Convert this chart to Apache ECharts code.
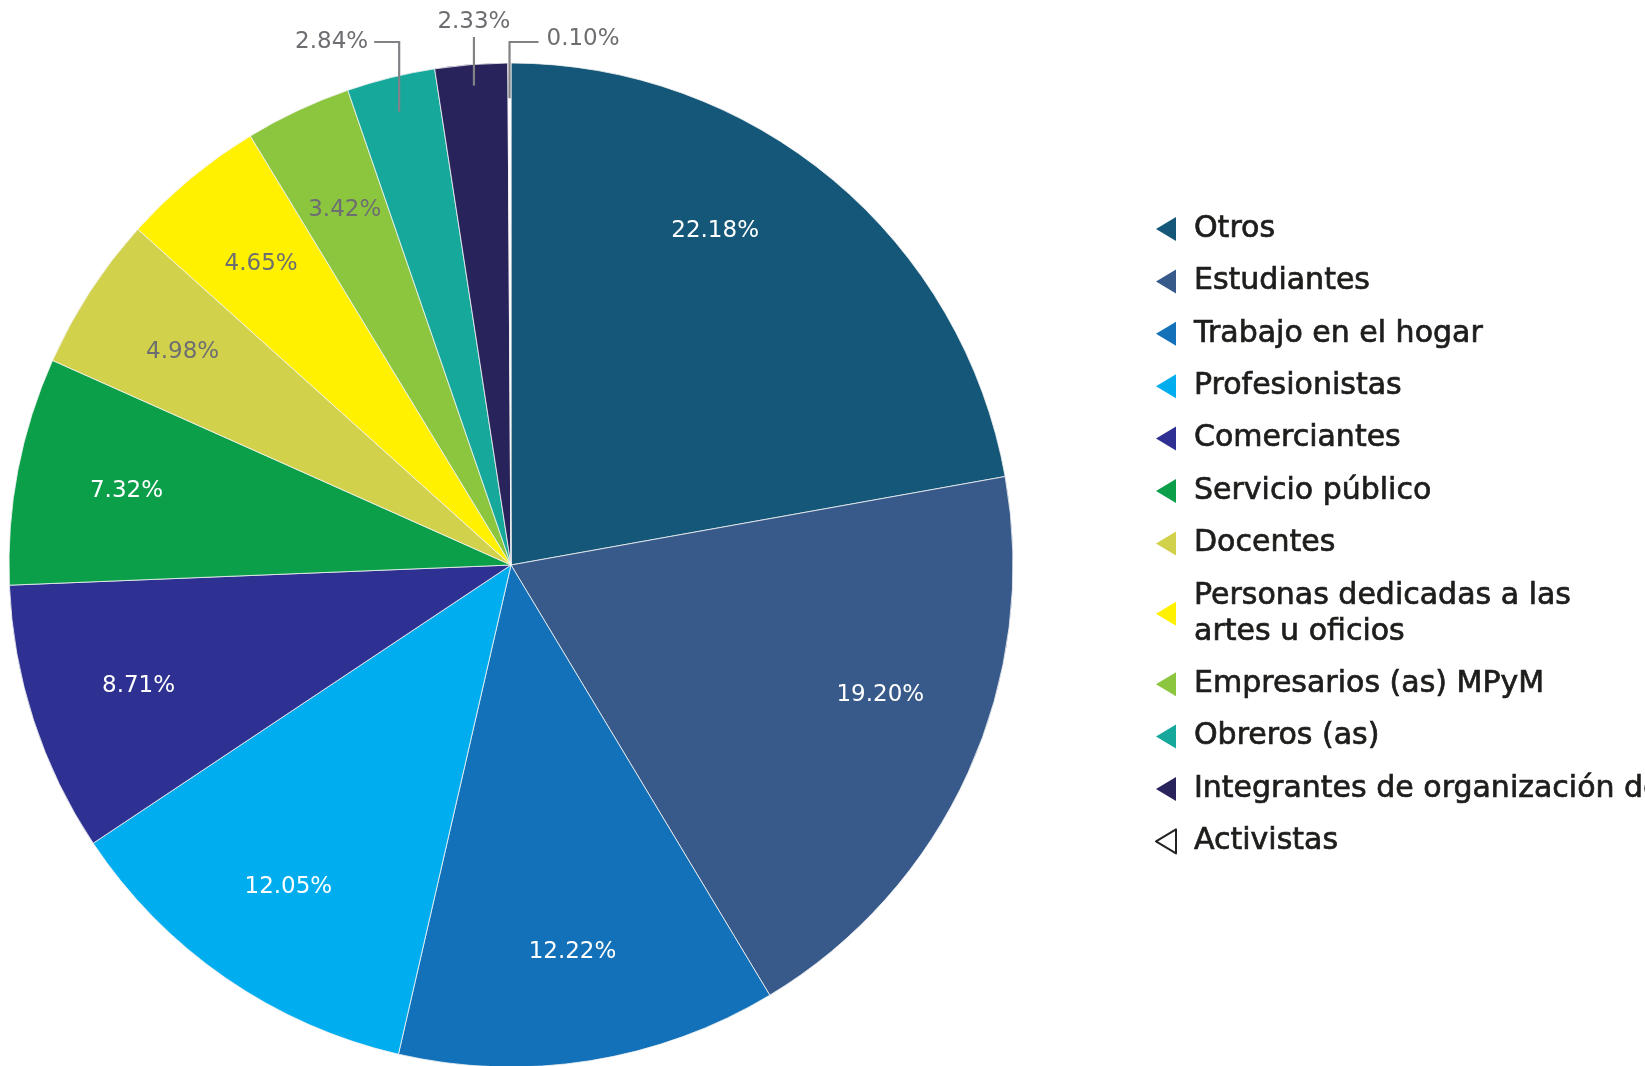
<!DOCTYPE html>
<html><head><meta charset="utf-8">
<script src="https://cdn.jsdelivr.net/npm/echarts@6/dist/echarts.min.js"></script>
<style>html,body{margin:0;padding:0;background:#fff}#c{width:1645px;height:1066px}</style>
</head><body><div id="c"></div>
<script>
const categories = ['Otros','Estudiantes','Trabajo en el hogar','Profesionistas','Comerciantes','Servicio público','Docentes','Personas dedicadas a las\nartes u oficios','Empresarios (as) MPyM','Obreros (as)','Integrantes de organización de la sociedad civil','Activistas'];
const values = [22.18,19.20,12.22,12.05,8.71,7.32,4.98,4.65,3.42,2.84,2.33,0.10];
const colors = ['#155778','#385a8a','#1271b9','#00aeef','#2e3192','#0c9f4a','#d2d14b','#fff100','#8cc63f','#16a89b','#29235c','#ffffff'];
const labelColors = ['#ffffff','#ffffff','#ffffff','#ffffff','#ffffff','#ffffff','#6d6e71','#6d6e71','#6d6e71','#6d6e71','#6d6e71','#6d6e71'];
const outsideIdx = [9,10,11];
const outsideDir = {9:'left',10:'up',11:'right'};
// small angular nudges (degrees) of the inside labels, as placed in the original
const labelNudge = {0:-8.5, 1:-5};

const CX = 511, CY = 565, R = 502;
const total = values.reduce((a,b)=>a+b,0);
const midAngles = [];
let acc = 0;
values.forEach(v => { midAngles.push((acc + v/2)/total*2*Math.PI); acc += v; });
function pt(i, r, nudgeDeg){ const a = midAngles[i] + (nudgeDeg||0)*Math.PI/180; return [CX + r*Math.sin(a), CY - r*Math.cos(a)]; }

const LINE_TOP = 42;
const baseData = categories.map((name,i) => ({name, value: values[i], itemStyle: {color: colors[i]}}));
const labelData = categories.map((name,i) => {
  const out = outsideIdx.indexOf(i) >= 0;
  return {
    name, value: values[i],
    label: {position: out ? 'outside' : 'inside', color: labelColors[i]},
    labelLine: {show: out, lineStyle: {color: '#808285', width: 2.2}}
  };
});

const chart = echarts.init(document.getElementById('c'), null, {renderer:'canvas'});
chart.setOption({
  animation: false,
  backgroundColor: '#fff',
  legend: {
    orient: 'vertical', left: 1150, top: 206,
    itemWidth: 22, itemHeight: 24, itemGap: 16.4,
    icon: 'path://M20,0 L20,24 L0,12 Z',
    itemStyle: {borderWidth: 0},
    textStyle: {fontFamily: 'DejaVu Sans', fontSize: 30, lineHeight: 36, color: '#1d1d1b',
      textBorderColor: '#1d1d1b', textBorderWidth: 0.7, padding: [0,0,0,12]},
    data: categories.map((n,i) => i === 11
      ? {name: n, itemStyle: {color:'#fff', borderColor:'#222', borderWidth: 2}}
      : {name: n, itemStyle: {color: colors[i]}})
  },
  series: [{
    type: 'pie', z: 2,
    center: [CX, CY], radius: [0, R],
    startAngle: 90, clockwise: true,
    itemStyle: {borderColor: '#f4f4f4', borderWidth: 0.8},
    label: {show: false}, labelLine: {show: false},
    data: baseData
  }, {
    type: 'pie', z: 5,
    center: [CX, CY], radius: [0, R],
    startAngle: 90, clockwise: true,
    silent: true, legendHoverLink: false,
    avoidLabelOverlap: false,
    itemStyle: {color: 'rgba(0,0,0,0)', borderWidth: 0},
    label: {
      show: true, fontFamily: 'DejaVu Sans', fontSize: 23,
      formatter: p => p.value.toFixed(2) + '%'
    },
    labelLine: {show: false, length: 10, length2: 10},
    labelLayout: function (params) {
      const i = params.dataIndex;
      if (outsideIdx.indexOf(i) < 0) {
        const p = pt(i, 0.78*R, labelNudge[i]);
        return {x: p[0], y: p[1], align: 'center', verticalAlign: 'middle'};
      }
      const a = pt(i, 0.93*R);
      const dir = outsideDir[i];
      if (dir === 'left') {
        return {x: a[0]-31, y: LINE_TOP, align: 'right', verticalAlign: 'middle',
          labelLinePoints: [[a[0], a[1]], [a[0], LINE_TOP], [a[0]-25, LINE_TOP]]};
      } else if (dir === 'up') {
        return {x: a[0], y: 22, align: 'center', verticalAlign: 'middle',
          labelLinePoints: [[a[0], a[1]-14], [a[0], LINE_TOP-5], [a[0], LINE_TOP-5]]};
      } else {
        return {x: a[0]+37, y: 39, align: 'left', verticalAlign: 'middle',
          labelLinePoints: [[a[0], a[1]], [a[0], LINE_TOP], [a[0]+29, LINE_TOP]]};
      }
    },
    data: labelData
  }]
});
</script></body></html>
